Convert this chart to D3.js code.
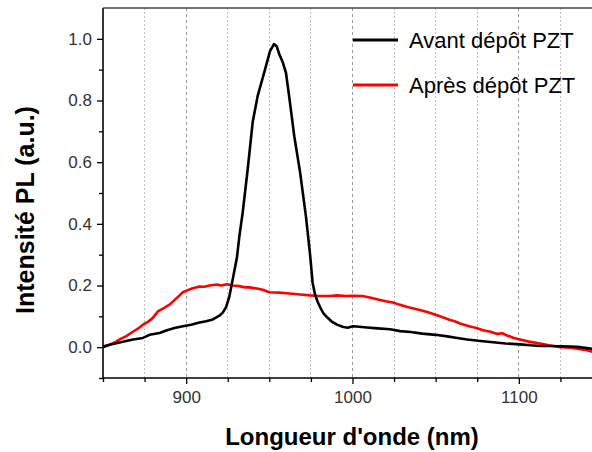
<!DOCTYPE html>
<html>
<head>
<meta charset="utf-8">
<script src="https://cdn.jsdelivr.net/npm/d3@7"></script>
<style>
  html, body { margin: 0; padding: 0; background: #fff; }
  svg { display: block; }
</style>
</head>
<body>
<svg id="chart" width="592" height="452"></svg>
<script>
// PL spectra before / after PZT deposition
const avantWl = [850, 854, 860, 868, 874, 878, 884, 888, 893, 898, 903, 908, 912, 916, 920, 922, 924, 926, 928, 930.5,
  932, 934, 937, 940, 943, 947.4, 950.4, 952.8, 954.5, 956, 958, 960, 962, 965, 968.5, 972, 974.5, 976, 977.5, 979,
  980.5, 982.5, 984.7, 987.5, 990.7, 994, 997, 1000.3, 1004, 1008.7, 1015, 1022.6, 1028.6, 1035, 1042, 1050, 1057,
  1063, 1069, 1077, 1084.5, 1092, 1100.7, 1107, 1112.8, 1118, 1125, 1131, 1137, 1141, 1145];
const avantVal = [0.0, 0.008, 0.015, 0.025, 0.03, 0.04, 0.046, 0.054, 0.062, 0.068, 0.073, 0.08, 0.084, 0.09, 0.102,
  0.112, 0.13, 0.165, 0.22, 0.29, 0.36, 0.437, 0.577, 0.73, 0.815, 0.90, 0.96, 0.983, 0.975, 0.95, 0.925, 0.89, 0.81,
  0.684, 0.567, 0.425, 0.30, 0.21, 0.17, 0.148, 0.13, 0.11, 0.097, 0.083, 0.073, 0.066, 0.063, 0.068, 0.066, 0.064,
  0.061, 0.058, 0.052, 0.049, 0.044, 0.04, 0.035, 0.03, 0.025, 0.02, 0.016, 0.012, 0.009, 0.006, 0.004, 0.004, 0.003,
  0.002, 0.0, -0.003, -0.006];

const apresWl = [850, 854, 857, 860, 864, 868, 871, 874, 877, 880, 883, 886, 890, 894.5, 898, 901, 903.5, 908, 911, 914,
  918.5, 921, 924.5, 928, 932, 935, 938, 942.6, 946, 950, 956, 962, 968.5, 974.5, 980, 986.5, 990.7, 996, 1000, 1006,
  1011, 1016.6, 1020, 1024.4, 1028, 1033, 1038, 1045, 1049, 1052.6, 1058.6, 1061, 1064.7, 1070, 1074, 1078.5, 1083,
  1087, 1090, 1093, 1097, 1100.7, 1106, 1112.8, 1118, 1125, 1131, 1137, 1141, 1145];
const apresVal = [0.003, 0.008, 0.015, 0.025, 0.036, 0.05, 0.06, 0.073, 0.082, 0.095, 0.116, 0.125, 0.138, 0.16, 0.178,
  0.185, 0.19, 0.197, 0.196, 0.2, 0.203, 0.2, 0.204, 0.2, 0.198, 0.194, 0.194, 0.19, 0.186, 0.178, 0.177, 0.174, 0.171,
  0.168, 0.166, 0.166, 0.168, 0.166, 0.167, 0.166, 0.16, 0.153, 0.149, 0.145, 0.138, 0.13, 0.124, 0.114, 0.107, 0.10,
  0.088, 0.085, 0.077, 0.068, 0.063, 0.055, 0.05, 0.043, 0.045, 0.038, 0.03, 0.025, 0.018, 0.012, 0.006, 0.0, -0.002,
  -0.007, -0.01, -0.016];

const seriesNames = ["Avant dépôt PZT", "Après dépôt PZT"];
const seriesColors = ["#000000", "#ff0000"];

const xMajorTicks = [900, 1000, 1100];
const xMinorTicks = [850, 875, 925, 950, 975, 1025, 1050, 1075, 1125];
const yMajorTicks = [0.0, 0.2, 0.4, 0.6, 0.8, 1.0];
const yMinorTicks = [-0.1, 0.1, 0.3, 0.5, 0.7, 0.9];

const xTitle = "Longueur d'onde (nm)";
const yTitle = "Intensité PL (a.u.)";

const svg = d3.select("#chart");
const plotL = 103, plotR = 592, plotT = 8, plotB = 378;

const x = d3.scaleLinear().domain([850, 1144]).range([plotL, plotR]);
const y = d3.scaleLinear().domain([-0.1, 1.1]).range([plotB, plotT]);

const font = "'Liberation Sans', Arial, sans-serif";

// vertical grid
const gridVals = xMajorTicks.concat(xMinorTicks.filter(v => v > 850)).sort((a, b) => a - b);
svg.append("g").selectAll("line").data(gridVals).join("line")
  .attr("x1", d => x(d)).attr("x2", d => x(d))
  .attr("y1", plotT).attr("y2", plotB)
  .attr("stroke", d => xMajorTicks.includes(d) ? "#9a9a9a" : "#c0c0c0")
  .attr("stroke-width", 1)
  .attr("stroke-dasharray", d => xMajorTicks.includes(d) ? "3,3" : "2,2")
  .attr("shape-rendering", "crispEdges");

// clip for curves
svg.append("defs").append("clipPath").attr("id", "plot")
  .append("rect").attr("x", plotL).attr("y", plotT).attr("width", plotR - plotL).attr("height", plotB - plotT);

const line = d3.line().x(d => x(d[0])).y(d => y(d[1]));
const curves = [d3.zip(avantWl, avantVal), d3.zip(apresWl, apresVal)];

// red drawn first so black peak sits on top where they meet
[1, 0].forEach(i => {
  svg.append("path")
    .datum(curves[i])
    .attr("clip-path", "url(#plot)")
    .attr("fill", "none")
    .attr("stroke", seriesColors[i])
    .attr("stroke-width", 2.6)
    .attr("stroke-linejoin", "round")
    .attr("d", line);
});

// axes
const xAxisMajor = d3.axisBottom(x).tickValues(xMajorTicks).tickSize(6).tickFormat(d3.format("d"));
const xAxisMinor = d3.axisBottom(x).tickValues(xMinorTicks).tickSize(4).tickFormat("");
const yAxisMajor = d3.axisLeft(y).tickValues(yMajorTicks).tickSize(6).tickFormat(d3.format(".1f"));
const yAxisMinor = d3.axisLeft(y).tickValues(yMinorTicks).tickSize(4).tickFormat("");

function styleAxis(g) {
  g.select(".domain").remove();
  g.selectAll(".tick line").attr("stroke", "#000").attr("stroke-width", 1.3);
  g.selectAll(".tick text").attr("fill", "#333").style("font-family", font).style("font-size", "17px");
}

svg.append("g").attr("transform", `translate(0,${plotB})`).call(xAxisMinor).call(styleAxis);
svg.append("g").attr("transform", `translate(0,${plotB})`).call(xAxisMajor).call(styleAxis)
  .selectAll(".tick text").attr("dy", "0.95em").attr("y", 9);
svg.append("g").attr("transform", `translate(${plotL},0)`).call(yAxisMinor).call(styleAxis);
svg.append("g").attr("transform", `translate(${plotL},0)`).call(yAxisMajor).call(styleAxis)
  .selectAll(".tick text").attr("x", -11);

// frame lines
svg.append("line").attr("x1", plotL).attr("x2", plotR).attr("y1", plotB).attr("y2", plotB)
  .attr("stroke", "#000").attr("stroke-width", 1.6);
svg.append("line").attr("x1", plotL).attr("x2", plotL).attr("y1", plotT).attr("y2", plotB)
  .attr("stroke", "#000").attr("stroke-width", 1.6);
svg.append("line").attr("x1", plotL).attr("x2", plotR).attr("y1", plotT).attr("y2", plotT)
  .attr("stroke", "#444").attr("stroke-width", 1.6);

// axis titles
svg.append("text")
  .attr("x", 352).attr("y", 445)
  .attr("text-anchor", "middle")
  .style("font-family", font).style("font-size", "24px").style("font-weight", "bold")
  .text(xTitle);
svg.append("text")
  .attr("transform", "translate(34,210) rotate(-90)")
  .attr("text-anchor", "middle")
  .style("font-family", font).style("font-size", "25px").style("font-weight", "bold")
  .text(yTitle);

// legend
const legend = svg.append("g");
seriesNames.forEach((name, i) => {
  const ly = 40 + i * 45;
  legend.append("line")
    .attr("x1", 353).attr("x2", 398).attr("y1", ly).attr("y2", ly)
    .attr("stroke", seriesColors[i]).attr("stroke-width", 3.2);
  legend.append("text")
    .attr("x", 409).attr("y", ly + 7.5)
    .style("font-family", font).style("font-size", "22px").attr("fill", "#000")
    .text(name);
});
</script>
</body>
</html>
